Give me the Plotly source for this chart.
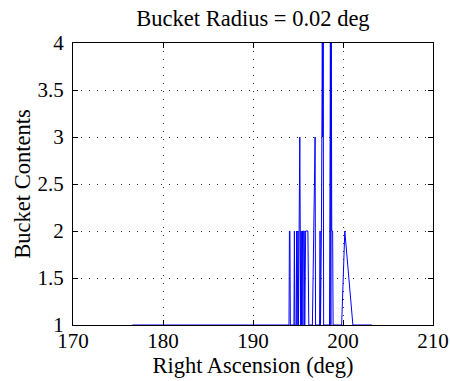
import plotly.graph_objects as go

ra = [176.6, 194.0, 194.05, 194.1, 194.15, 194.55, 194.6, 194.65, 194.8, 194.85, 194.9,
      194.95, 195.0, 195.05, 195.1, 195.2, 195.25, 195.3, 195.35, 195.4, 195.45, 195.5,
      195.55, 195.6, 195.7, 195.75, 195.85, 196.0, 196.1, 196.2, 196.6, 196.9, 196.95,
      197.4, 197.45, 197.5, 197.6, 197.7, 197.75, 197.8, 197.85, 198.5, 198.55, 198.6,
      198.65, 198.7, 198.75, 198.85, 198.9, 199.85, 200.2, 201.1, 203.2]
contents = [1, 1, 2, 2, 1, 1, 2, 1, 1, 2, 1,
            2, 2, 1, 2, 3, 2, 1, 2, 1, 2, 2,
            1, 2, 2, 1, 2, 2, 2, 1, 1, 3, 1,
            1, 2, 1, 2, 4, 3, 4, 1, 1, 4, 4,
            1, 4, 2, 2, 1, 1, 2, 1, 1]

xticks = [170, 180, 190, 200, 210]
yticks = [1, 1.5, 2, 2.5, 3, 3.5, 4]
yticklabels = ["1", "1.5", "2", "2.5", "3", "3.5", "4"]

font = "Liberation Serif"

fig = go.Figure()
fig.add_trace(go.Scatter(x=ra, y=contents, mode="lines",
                         line=dict(color="#0000ff", width=1), showlegend=False))

axis_common = dict(showline=True, linecolor="black", linewidth=1, mirror="ticks",
                   ticks="inside", ticklen=5, tickcolor="black", automargin=False,
                   showgrid=True, gridcolor="#333333", griddash="1px,7px", gridwidth=1,
                   zeroline=False, tickfont=dict(family=font, size=21, color="black"))

fig.update_xaxes(range=[170, 210], tickvals=xticks, ticktext=[str(t) for t in xticks],
                 ticklabelstandoff=-3,
                 title=dict(text="Right Ascension (deg)", font=dict(family=font, size=22.5, color="black"),
                            standoff=0),
                 **axis_common)
fig.update_yaxes(range=[1, 4], tickvals=yticks, ticktext=yticklabels,
                 ticklabelstandoff=4,
                 title=dict(text="Bucket Contents", font=dict(family=font, size=22.5, color="black"),
                            standoff=0),
                 **axis_common)

fig.update_layout(
    width=450, height=381,
    margin=dict(l=73, r=17, t=43, b=56),
    paper_bgcolor="white", plot_bgcolor="white",
    title=dict(text="Bucket Radius = 0.02 deg", x=0.5622, xanchor="center",
               y=0.952, yanchor="middle", font=dict(family=font, size=22.5, color="black")),
)

fig.write_html("out.html")
